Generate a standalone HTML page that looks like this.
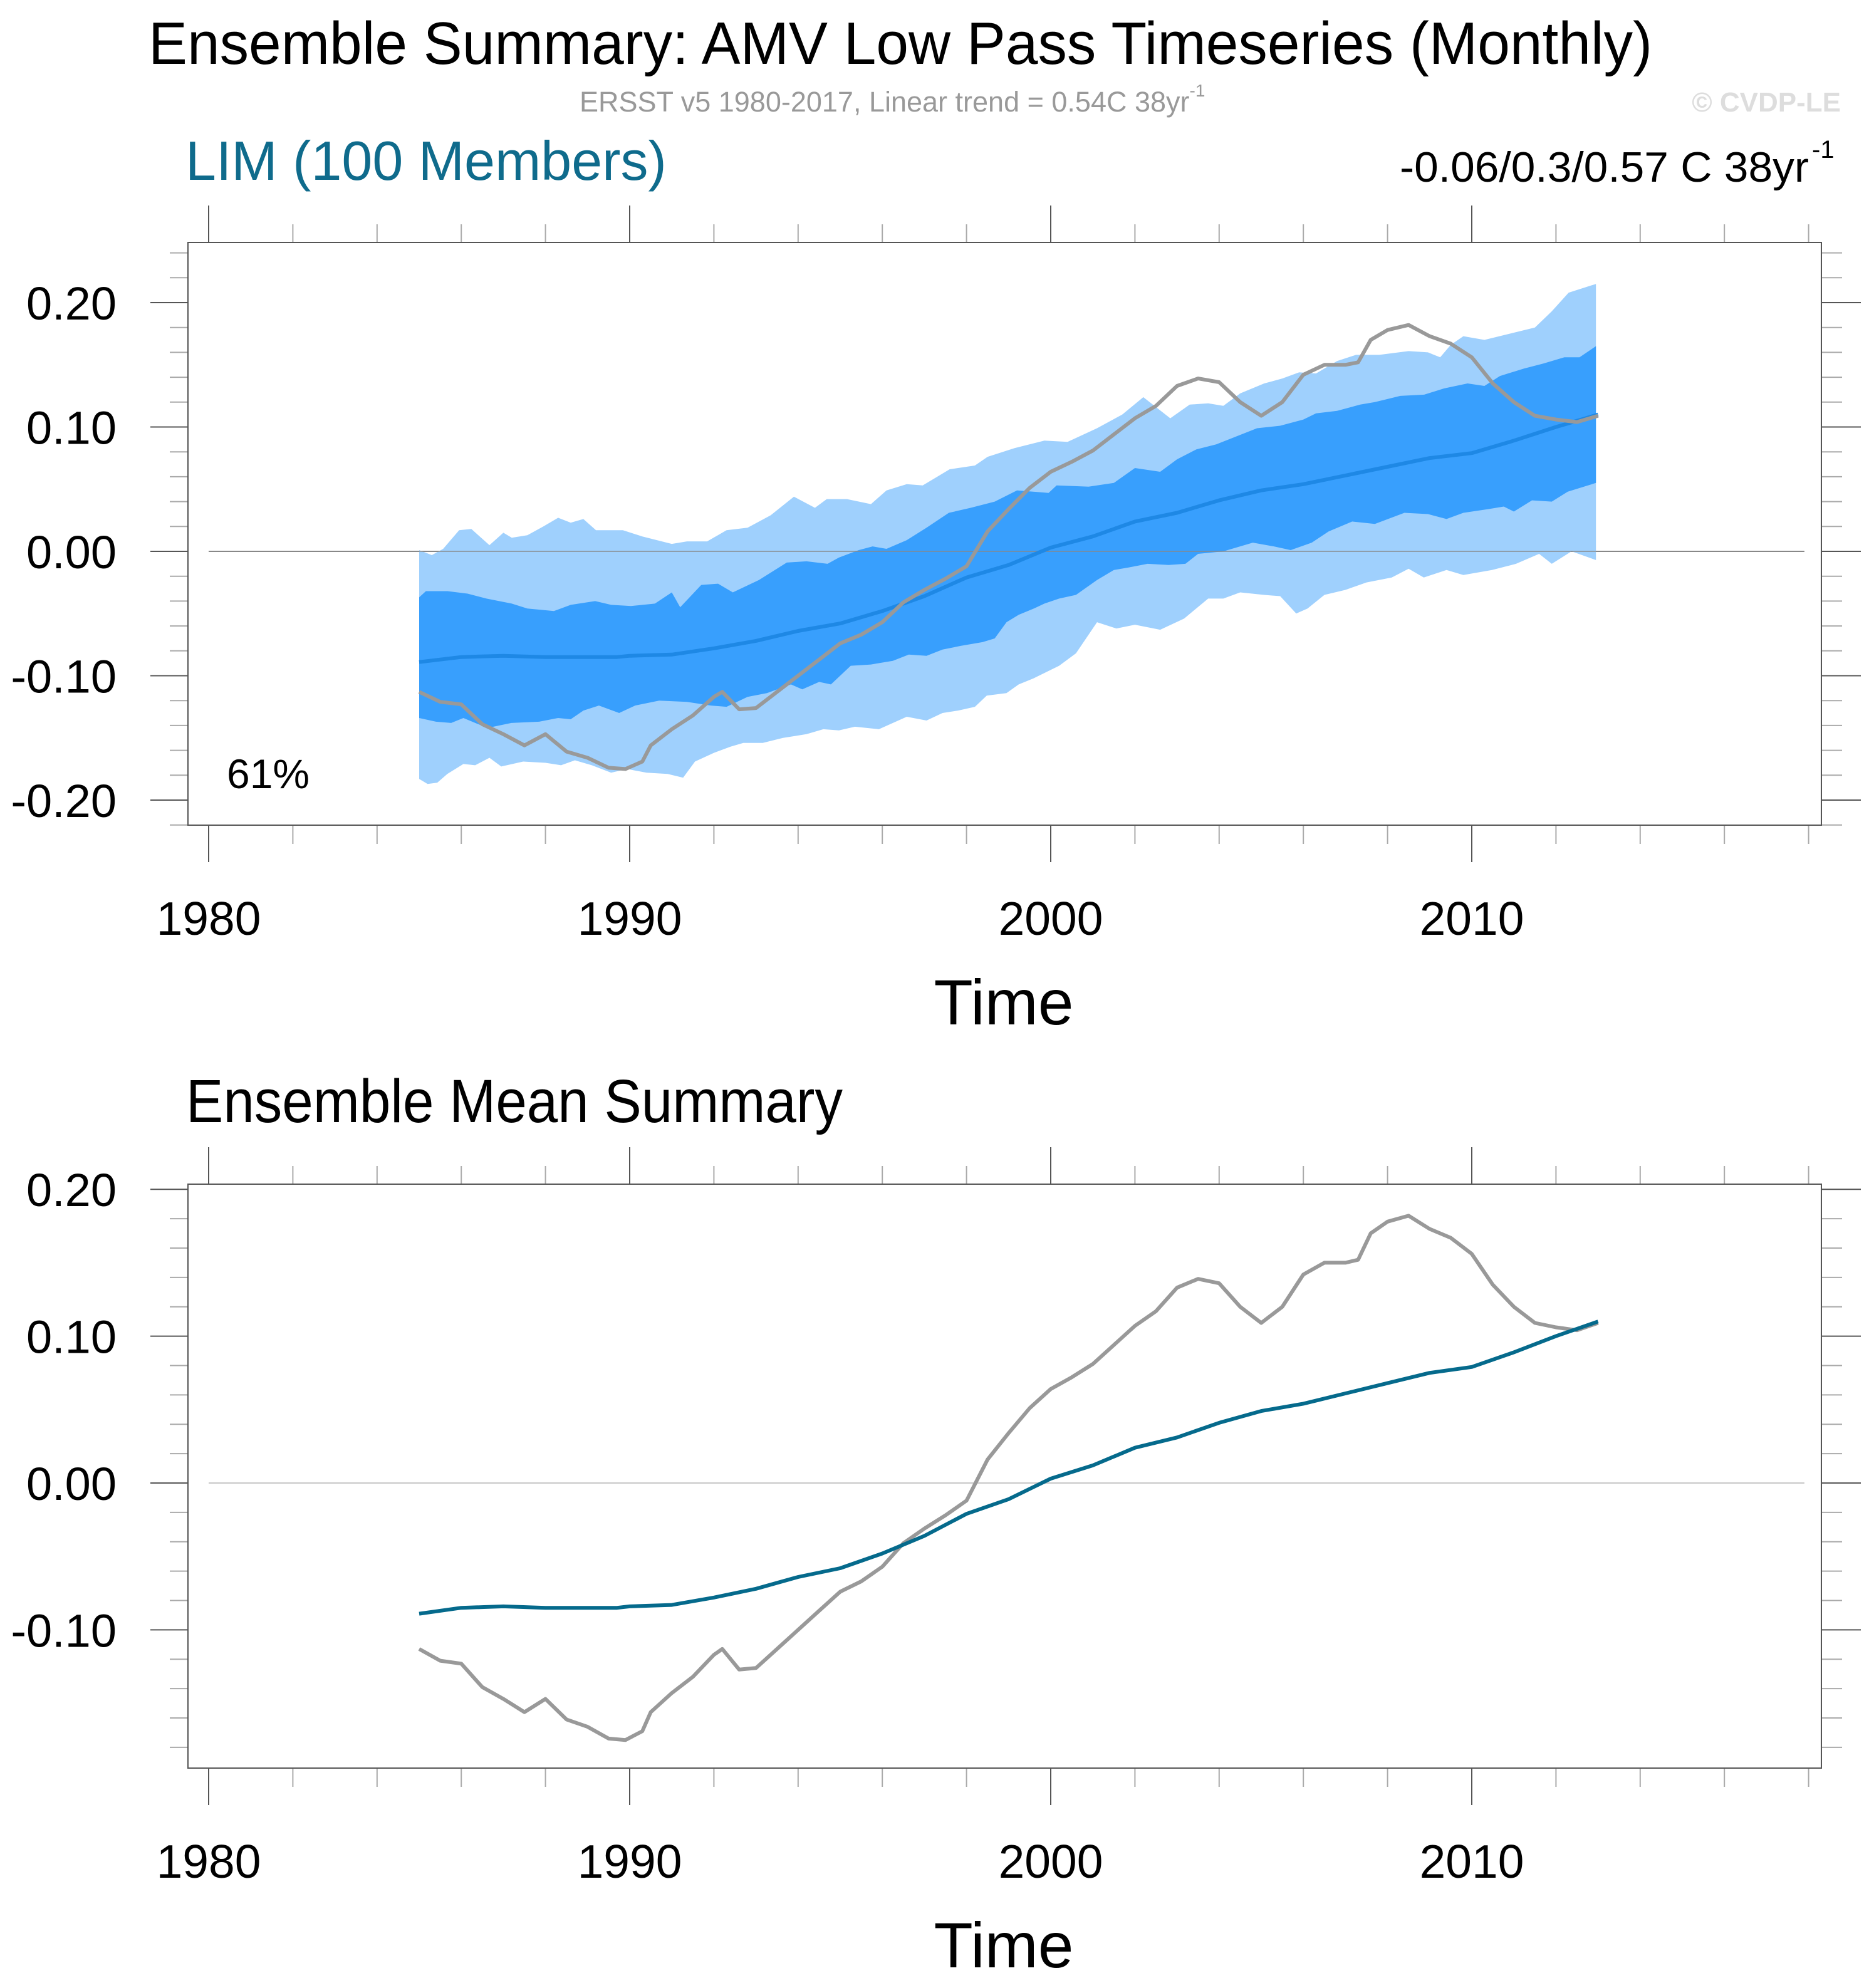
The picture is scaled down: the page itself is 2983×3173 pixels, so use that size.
<!DOCTYPE html>
<html><head><meta charset="utf-8"><style>
html,body{margin:0;padding:0;background:#fff}
svg{display:block}
text{font-family:"Liberation Sans",Arial,sans-serif}
</style></head><body>
<svg id="chart" width="2983" height="3173" viewBox="0 0 2983 3173" xmlns="http://www.w3.org/2000/svg">
<text x="237" y="102" font-size="96" textLength="2400" lengthAdjust="spacingAndGlyphs">Ensemble Summary: AMV Low Pass Timeseries (Monthly)</text>
<text x="925" y="178" font-size="45" fill="#999">ERSST v5 1980-2017, Linear trend = 0.54C 38yr<tspan font-size="28" dy="-24">-1</tspan></text>
<text x="2938" y="178" font-size="44" font-weight="bold" fill="#ddd" text-anchor="end">© CVDP-LE</text>
<text x="296" y="287" font-size="88" fill="#0f6b8c">LIM (100 Members)</text>
<text x="2234" y="290" font-size="68" textLength="653" lengthAdjust="spacingAndGlyphs">-0.06/0.3/0.57 C 38yr</text>
<text x="2892" y="252" font-size="40">-1</text>
<text x="297" y="1791" font-size="97" textLength="1048" lengthAdjust="spacingAndGlyphs">Ensemble Mean Summary</text>
<g id="top"></g>
<g id="bot"></g>
</svg>
<script>
// ---- data ----
const obsYears=[1985,1985.5,1986,1986.5,1987,1987.5,1988,1988.5,1989,1989.5,1989.9,1990.3,1990.5,1991,1991.5,1992,1992.2,1992.6,1993,1993.5,1994,1994.5,1995,1995.5,1996,1996.5,1997,1997.5,1998,1998.5,1999,1999.5,2000,2000.5,2001,2001.5,2002,2002.5,2003,2003.5,2004,2004.5,2005,2005.5,2006,2006.5,2007,2007.3,2007.6,2008,2008.5,2009,2009.5,2010,2010.5,2011,2011.5,2012,2012.5,2013];
const obsValues=[-0.113,-0.121,-0.123,-0.139,-0.147,-0.156,-0.147,-0.161,-0.166,-0.174,-0.175,-0.169,-0.156,-0.143,-0.132,-0.117,-0.113,-0.127,-0.126,-0.113,-0.100,-0.087,-0.074,-0.067,-0.057,-0.041,-0.031,-0.022,-0.012,0.016,0.034,0.051,0.064,0.072,0.081,0.094,0.107,0.117,0.133,0.139,0.136,0.120,0.109,0.120,0.142,0.150,0.150,0.152,0.170,0.178,0.182,0.173,0.167,0.156,0.135,0.120,0.109,0.106,0.104,0.109];
const meanYears=[1985,1986,1987,1988,1989,1989.7,1990,1991,1992,1993,1994,1995,1996,1997,1998,1999,2000,2001,2002,2003,2004,2005,2006,2007,2008,2009,2010,2011,2012,2013];
const meanValues=[-0.089,-0.085,-0.084,-0.085,-0.085,-0.085,-0.084,-0.083,-0.078,-0.072,-0.064,-0.058,-0.048,-0.036,-0.021,-0.011,0.003,0.012,0.024,0.031,0.041,0.049,0.054,0.061,0.068,0.075,0.079,0.089,0.100,0.110];
const lightUpYears=[1985,1985.3,1985.57,1985.95,1986.24,1986.67,1987,1987.2,1987.57,1987.95,1988.3,1988.6,1988.9,1989.2,1989.84,1990.3,1991,1991.36,1991.84,1992.3,1992.8,1993.35,1993.9,1994.4,1994.68,1995.16,1995.73,1996.1,1996.58,1996.96,1997.6,1998.2,1998.5,1999.14,1999.85,2000.4,2001.1,2001.7,2002.2,2002.5,2002.84,2003.3,2003.74,2004.1,2004.5,2005.07,2005.5,2005.9,2006.3,2006.8,2007.25,2007.8,2008.5,2008.96,2009.25,2009.5,2009.8,2010.3,2010.9,2011.5,2011.9,2012.3,2012.95];
const lightUpValues=[0.001,-0.003,0.002,0.017,0.018,0.005,0.015,0.011,0.013,0.020,0.027,0.023,0.026,0.017,0.017,0.012,0.006,0.008,0.008,0.017,0.019,0.029,0.044,0.035,0.042,0.042,0.038,0.049,0.054,0.053,0.066,0.069,0.076,0.083,0.089,0.088,0.099,0.110,0.124,0.116,0.107,0.118,0.119,0.117,0.127,0.135,0.139,0.144,0.143,0.153,0.158,0.158,0.161,0.160,0.156,0.166,0.173,0.170,0.175,0.180,0.193,0.208,0.215];
const darkUpYears=[1985,1985.16,1985.67,1986.15,1986.6,1987.2,1987.57,1988.2,1988.6,1989.18,1989.56,1990.03,1990.6,1991,1991.2,1991.7,1992.1,1992.45,1993.07,1993.73,1994.2,1994.7,1994.97,1995.44,1995.77,1996.1,1996.58,1997.05,1997.58,1998.1,1998.67,1999.2,1999.95,2000.14,2000.9,2001.5,2002,2002.6,2003,2003.46,2003.93,2004.9,2005.45,2006,2006.3,2006.8,2007.35,2007.7,2008.3,2008.87,2009.34,2009.9,2010.3,2010.67,2011.24,2011.7,2012.2,2012.56,2012.95];
const darkUpValues=[-0.037,-0.032,-0.032,-0.034,-0.038,-0.042,-0.046,-0.048,-0.043,-0.040,-0.043,-0.044,-0.042,-0.033,-0.045,-0.027,-0.026,-0.033,-0.023,-0.009,-0.008,-0.010,-0.005,0.001,0.004,0.002,0.009,0.019,0.031,0.035,0.040,0.049,0.047,0.053,0.052,0.055,0.067,0.064,0.074,0.082,0.086,0.099,0.101,0.106,0.111,0.113,0.118,0.120,0.125,0.126,0.131,0.135,0.133,0.141,0.147,0.151,0.156,0.156,0.165];
const darkLoYears=[1985,1985.4,1985.76,1986.05,1986.62,1987.19,1987.85,1988.3,1988.6,1988.9,1989.27,1989.75,1990.13,1990.7,1991.36,1991.93,1992.3,1992.8,1993.26,1993.83,1994.1,1994.5,1994.78,1995.25,1995.73,1996.25,1996.63,1997.05,1997.43,1997.86,1998.38,1998.67,1998.95,1999.24,1999.6,1999.85,2000.2,2000.6,2001.1,2001.5,2001.85,2002.3,2002.8,2003.2,2003.5,2004.1,2004.8,2005.3,2005.7,2006.2,2006.6,2007.16,2007.7,2008.4,2008.96,2009.4,2009.8,2010.4,2010.76,2011,2011.43,2011.9,2012.28,2012.95];
const darkLoValues=[-0.134,-0.137,-0.138,-0.134,-0.142,-0.138,-0.137,-0.134,-0.135,-0.128,-0.124,-0.130,-0.124,-0.120,-0.121,-0.124,-0.125,-0.117,-0.114,-0.107,-0.111,-0.105,-0.107,-0.092,-0.091,-0.088,-0.083,-0.084,-0.079,-0.076,-0.073,-0.070,-0.057,-0.051,-0.046,-0.042,-0.038,-0.035,-0.023,-0.015,-0.013,-0.010,-0.011,-0.010,-0.002,0.000,0.007,0.004,0.001,0.007,0.016,0.024,0.022,0.031,0.030,0.026,0.031,0.034,0.036,0.032,0.041,0.040,0.048,0.055];
const lightLoYears=[1985,1985.2,1985.43,1985.67,1986.05,1986.33,1986.67,1986.95,1987.47,1988,1988.37,1988.7,1989.1,1989.56,1989.94,1990.4,1990.9,1991.27,1991.55,1992,1992.4,1992.7,1993.16,1993.64,1994.2,1994.6,1994.97,1995.35,1995.92,1996.58,1997.05,1997.43,1997.8,1998.2,1998.48,1998.95,1999.24,1999.6,2000.2,2000.6,2001.1,2001.56,2002,2002.6,2003.17,2003.74,2004.1,2004.5,2005.07,2005.45,2005.83,2006.1,2006.5,2007,2007.5,2008.1,2008.5,2008.86,2009.4,2009.8,2010.48,2011.05,2011.6,2011.9,2012.37,2012.95];
const lightLoValues=[-0.183,-0.187,-0.186,-0.179,-0.171,-0.172,-0.166,-0.173,-0.169,-0.170,-0.172,-0.168,-0.172,-0.178,-0.175,-0.178,-0.179,-0.182,-0.169,-0.162,-0.157,-0.154,-0.154,-0.150,-0.147,-0.143,-0.144,-0.141,-0.143,-0.133,-0.136,-0.130,-0.128,-0.125,-0.116,-0.114,-0.107,-0.102,-0.092,-0.082,-0.057,-0.062,-0.059,-0.063,-0.054,-0.038,-0.038,-0.033,-0.035,-0.036,-0.050,-0.046,-0.035,-0.031,-0.025,-0.021,-0.014,-0.021,-0.015,-0.019,-0.015,-0.010,-0.002,-0.010,0.000,-0.007];
const xTickYears=[1980,1990,2000,2010];
const topYTicks=[0.2,0.1,0,-0.1,-0.2];
const topYLabels=["0.20","0.10","0.00","-0.10","-0.20"];
const botYTicks=[0.2,0.1,0,-0.1];
const botYLabels=["0.20","0.10","0.00","-0.10"];

const NS="http://www.w3.org/2000/svg";
function mk(parent,tag,attrs){const e=document.createElementNS(NS,tag);for(const k in attrs)e.setAttribute(k,attrs[k]);parent.appendChild(e);return e;}
const X0=333, XPY=67.2;
function xs(yr){return X0+(yr-1980)*XPY;}
function linePath(ys,vs,sy){return ys.map((y,i)=>(i?'L':'M')+xs(y).toFixed(1)+' '+sy(vs[i]).toFixed(1)).join(' ');}
function bandPath(yu,vu,yl,vl,sy){let d=linePath(yu,vu,sy);for(let i=yl.length-1;i>=0;i--)d+=' L'+xs(yl[i]).toFixed(1)+' '+sy(vl[i]).toFixed(1);return d+' Z';}

function axes(g,P,sy,yt,yl,vmin,vmax){
  let z=mk(g,'line',{x1:xs(1980),x2:xs(2017.9),y1:sy(0),y2:sy(0),stroke:P.refColor,'stroke-width':2});
  
  
  for(let yr=1980;yr<=2018;yr+=2){
    const major=(yr%10===0);const x=xs(yr);
    let t=mk(g,'line',{x1:x,x2:x,y1:P.top,y2:major?P.top-59:P.top-29,stroke:major?'#555':'#aaa','stroke-width':2});
    
    
    let b=mk(g,'line',{x1:x,x2:x,y1:P.bottom,y2:major?P.bottom+59:P.bottom+30,stroke:major?'#555':'#aaa','stroke-width':2});
    
    
  }
  xTickYears.forEach(yr=>{
    let t=mk(g,'text',{x:xs(yr),y:P.bottom+175,'font-size':75,'text-anchor':'middle'});
    t.textContent=String(yr);
    
    
  });
  for(let k=Math.ceil(vmin*50);k<=Math.floor(vmax*50);k++){
    const v=k/50;const major=(k%5===0);const y=sy(v);
    let l=mk(g,'line',{x1:major?240:271,x2:300,y1:y,y2:y,stroke:major?'#555':'#aaa','stroke-width':2});
    
    
    let r=mk(g,'line',{x1:P.right,x2:major?2970:2940,y1:y,y2:y,stroke:major?'#555':'#aaa','stroke-width':2});
    
    
  }
  yt.forEach((v,i)=>{
    let t=mk(g,'text',{x:186,y:sy(v)+27,'font-size':74,'text-anchor':'end'});
    t.textContent=yl[i];
    
    
  });
  let tt=mk(g,'text',{x:1602,y:P.bottom+318,'font-size':102,'text-anchor':'middle'});
  tt.textContent='Time';
  
  
}
function frame(g,P){
  let f=mk(g,'rect',{x:300,y:P.top,width:P.right-300,height:P.bottom-P.top,fill:'none',stroke:'#555','stroke-width':2});
  
  
}

// top panel
const T={top:387,bottom:1317,right:2907,refColor:'#888'};
const syT=v=>880-v*1985;
const gt=document.getElementById('top');
axes(gt,T,syT,topYTicks,topYLabels,-0.22,0.248);
let lb=mk(gt,'path',{d:bandPath(lightUpYears,lightUpValues,lightLoYears,lightLoValues,syT),fill:'#9fd0fd'});


let db=mk(gt,'path',{d:bandPath(darkUpYears,darkUpValues,darkLoYears,darkLoValues,syT),fill:'#389ffd'});


let zr=mk(gt,'line',{x1:xs(1980),x2:xs(2017.9),y1:syT(0),y2:syT(0),stroke:'#888','stroke-width':2,opacity:0.7});


let ml=mk(gt,'path',{d:linePath(meanYears,meanValues,syT),fill:'none',stroke:'#1e88e5','stroke-width':6,'stroke-linejoin':'round'});


let ol=mk(gt,'path',{d:linePath(obsYears,obsValues,syT),fill:'none',stroke:'#999','stroke-width':6,'stroke-linejoin':'round'});


frame(gt,T);
let pc=mk(gt,'text',{x:362,y:1258,'font-size':66});
pc.textContent='61%';



// bottom panel
const B={top:1890,bottom:2822,right:2907,refColor:'#c8c8c8'};
const syB=v=>2367-v*2344;
const gb=document.getElementById('bot');
axes(gb,B,syB,botYTicks,botYLabels,-0.194,0.204);
let ol2=mk(gb,'path',{d:linePath(obsYears,obsValues,syB),fill:'none',stroke:'#999','stroke-width':6,'stroke-linejoin':'round'});


let ml2=mk(gb,'path',{d:linePath(meanYears,meanValues,syB),fill:'none',stroke:'#056a8c','stroke-width':6,'stroke-linejoin':'round'});


frame(gb,B);
</script>
</body></html>
